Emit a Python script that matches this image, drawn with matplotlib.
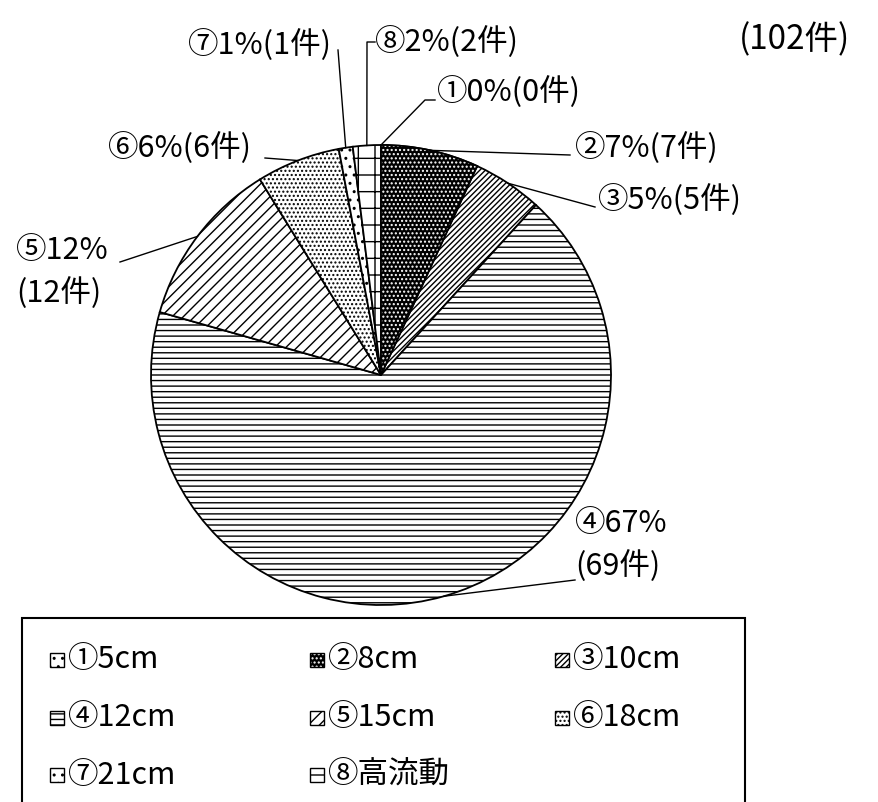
import numpy as np
import matplotlib.pyplot as plt
from matplotlib.patches import Rectangle, Wedge

plt.rcParams['font.family'] = ['Noto Sans CJK JP', 'DejaVu Sans']
plt.rcParams['hatch.linewidth'] = 1.0

# Data
marks = ['①', '②', '③', '④', '⑤', '⑥', '⑦', '⑧']
names = ['5cm', '8cm', '10cm', '12cm', '15cm', '18cm', '21cm', '高流動']
counts = [0, 7, 5, 69, 12, 6, 1, 2]
pcts = [0, 7, 5, 67, 12, 6, 1, 2]
total = 102

hatches = ['..', '....', '//////', '---', '///', '....', '..', '+']

W, H = 879, 802
cx, cy, R = 381, 375, 230  # pie centre / radius in pixels
FS = 22

fig = plt.figure(figsize=(W / 100, H / 100), dpi=100)
ax = fig.add_axes([0, 0, 1, 1])

wedges, _ = ax.pie(counts, startangle=90, counterclock=False, radius=1,
                   center=(0, 0), frame=True,
                   wedgeprops=dict(facecolor='white', edgecolor='black', linewidth=1.3))
ax.set_xlim(-cx / R, (W - cx) / R)
ax.set_ylim((cy - H) / R, cy / R)
ax.axis('off')
for w, h in zip(wedges, hatches):
    w.set_hatch(h)

# dark wedge ②: black with white dots
w2 = wedges[1]
w2.set_facecolor('black')
w2.set_hatch(None)
ax.add_patch(Wedge(w2.center, w2.r, w2.theta1, w2.theta2, facecolor='none',
                   edgecolor='white', hatch='....', linewidth=0, zorder=w2.zorder + 0.1))
ax.add_patch(Wedge(w2.center, w2.r, w2.theta1, w2.theta2, facecolor='none',
                   edgecolor='black', linewidth=1.3, zorder=w2.zorder + 0.2))


def px(x, y):
    return (x - cx) / R, (cy - y) / R


# label layout: (elbow points in px, text pos in px, ha)
layout = [
    ([(425, 100), (435, 100)], (437, 92), 'left'),
    ([(570, 155)], (575, 148), 'left'),
    ([(595, 207)], (598, 200), 'left'),
    ([(575, 580)], (575, 545), 'left'),
    ([(120, 262)], (16, 272), 'left'),
    ([(265, 158)], (252, 148), 'right'),
    ([(338, 50)], (332, 45), 'right'),
    ([(367, 42), (375, 42)], (375, 42), 'left'),
]

cum = 0
for i, (pts, tpos, ha) in enumerate(layout):
    mid = (cum + counts[i] / 2) / total * 2 * np.pi
    cum += counts[i]
    rx, ry = np.sin(mid), np.cos(mid)
    xs = [rx] + [px(*p)[0] for p in pts]
    ys = [ry] + [px(*p)[1] for p in pts]
    ax.plot(xs, ys, color='black', linewidth=1.0, zorder=5)
    if i in (3, 4):
        txt = f'{marks[i]}{pcts[i]}%\n({counts[i]}件)'
    else:
        txt = f'{marks[i]}{pcts[i]}%({counts[i]}件)'
    tx, ty = px(*tpos)
    ax.text(tx, ty, txt, ha=ha, va='center', fontsize=FS, linespacing=1.45, zorder=6)

ax.text(*px(795, 40), '(102件)', ha='center', va='center', fontsize=FS + 2)

# legend box
ax.add_patch(Rectangle(px(22, 830), (745 - 22) / R, (830 - 618) / R,
                       facecolor='white', edgecolor='black', linewidth=1.5, zorder=7))
col_x = [50, 310, 555]
row_y = [660, 718, 775]
for i in range(len(names)):
    r, c = divmod(i, 3)
    x0, y0 = px(col_x[c], row_y[r] + 7)
    s = 14 / R
    if i == 1:
        ax.add_patch(Rectangle((x0, y0), s, s, facecolor='black', edgecolor='white',
                               hatch='....', linewidth=0, zorder=8))
        ax.add_patch(Rectangle((x0, y0), s, s, facecolor='none', edgecolor='black',
                               linewidth=1.0, zorder=8))
    else:
        ax.add_patch(Rectangle((x0, y0), s, s, facecolor='white', edgecolor='black',
                               hatch=hatches[i], linewidth=1.0, zorder=8))
    ax.text(*px(col_x[c] + 18, row_y[r]), marks[i] + names[i], ha='left', va='center',
            fontsize=FS, zorder=9)

fig.savefig('out.png', dpi=100)
